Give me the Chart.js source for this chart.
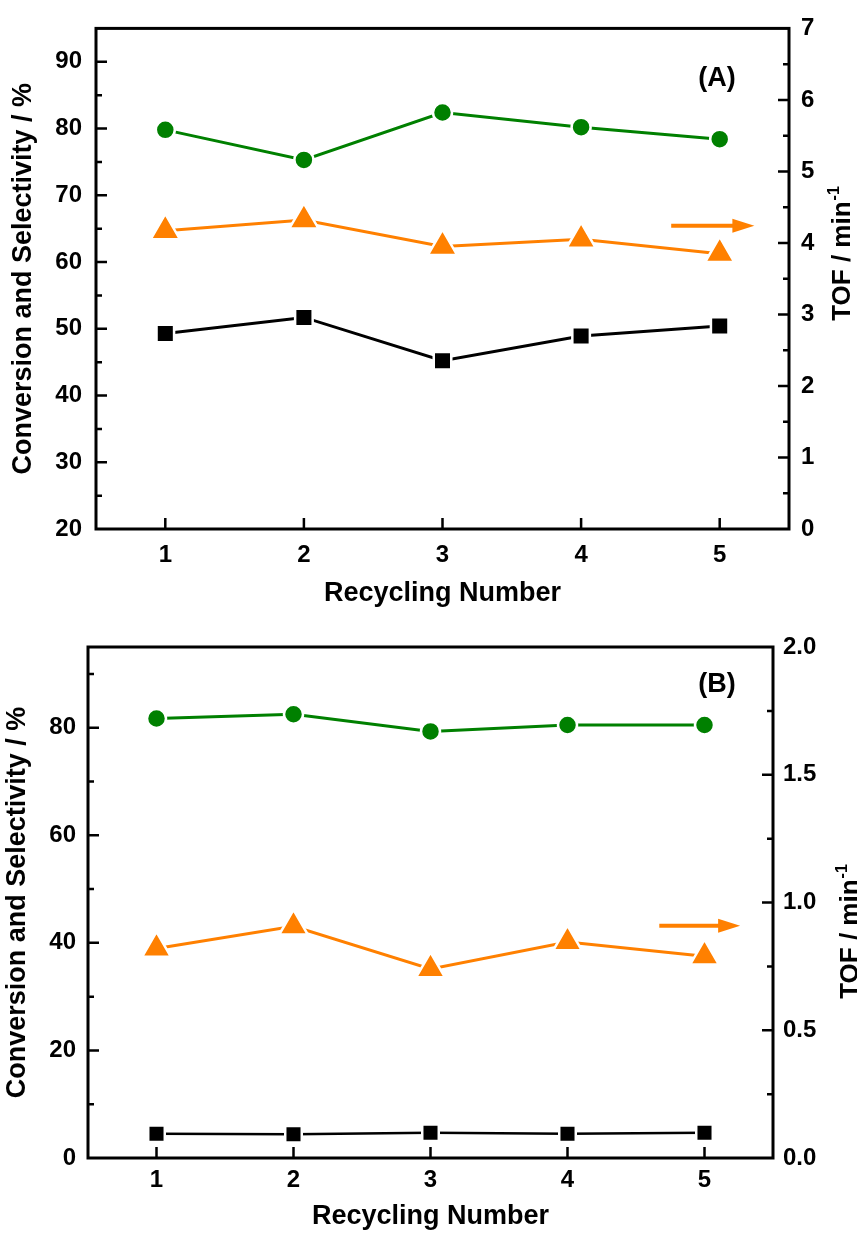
<!DOCTYPE html>
<html><head><meta charset="utf-8">
<script src="https://cdn.jsdelivr.net/npm/chart.js@4.4.1/dist/chart.umd.min.js"></script>
<style>
html,body{margin:0;padding:0;background:#fff;}
canvas{display:block;}
</style></head>
<body>
<canvas id="chartA" width="857" height="615"></canvas>
<canvas id="chartB" width="857" height="618"></canvas>
<script>
// recycling runs (x categories)
const cycles=['1','2','3','4','5'];

// panel A values
const selA=[79.8,75.3,82.4,80.2,78.4];   // green circles, left axis (%)
const convA=[49.3,51.7,45.2,48.9,50.4];  // black squares, left axis (%)
const tofA=[4.17,4.32,3.95,4.05,3.85];   // orange triangles, right axis (min-1)

// panel B values
const selB=[81.7,82.5,79.3,80.5,80.5];
const convB=[4.5,4.4,4.7,4.5,4.7];
const tofB=[0.82,0.907,0.74,0.845,0.79];

// labelled ticks
const leftTicksA=[20,30,40,50,60,70,80,90];
const rightTicksA=[0,1,2,3,4,5,6,7];
const leftTicksB=[0,20,40,60,80];
const rightTicksB=[0,0.5,1.0,1.5,2.0];

const fam="Arial, 'Liberation Sans', sans-serif";
const tickFont={family:fam,size:24,weight:'bold'};
const titleFont={family:fam,size:27,weight:'bold'};

function ds(data,color,style,r,lw,axis){
  return {data,borderColor:color,backgroundColor:color,pointBackgroundColor:color,
    pointBorderColor:'#fff',pointBorderWidth:2.5,pointStyle:style,pointRadius:r,
    pointHoverRadius:r,borderWidth:lw,yAxisID:axis,tension:0};
}

function yScale(pos,min,max,step,major,fmt,pad,w,title,tpad){
  return {position:pos,min,max,
    grid:{display:false,drawTicks:false},border:{display:false},
    afterBuildTicks:s=>{const t=[];for(let v=min;v<=max+1e-9;v+=step)t.push({value:+v.toFixed(4)});s.ticks=t;},
    ticks:{font:tickFont,color:'#000',padding:pad,autoSkip:false,
      callback:v=>major.some(m=>Math.abs(m-v)<1e-6)?fmt(v):''},
    title:{display:!!title,text:title||'',font:titleFont,color:'#000',padding:{top:tpad||0,bottom:0}},
    afterFit:s=>{s.width=w;}};
}

const deco={id:'deco',afterDraw(chart,args,o){
  const {ctx,chartArea:a,scales}=chart;
  ctx.save();
  ctx.strokeStyle='#000';ctx.lineWidth=3;
  ctx.strokeRect(a.left,a.top,a.right-a.left,a.bottom-a.top);
  // inward tick marks, short for unlabelled ones
  ctx.lineWidth=2.5;ctx.beginPath();
  scales.x.ticks.forEach((t,i)=>{const p=scales.x.getPixelForTick(i);ctx.moveTo(p,a.bottom);ctx.lineTo(p,a.bottom-11);});
  ['y','y2'].forEach(id=>{
    const s=scales[id],dir=id==='y'?1:-1,x0=id==='y'?a.left:a.right;
    s.ticks.forEach((t,i)=>{
      const p=s.getPixelForTick(i);
      if(p<a.top+2||p>a.bottom-2)return;
      const len=t.label!==''?11:6;
      ctx.moveTo(x0,p);ctx.lineTo(x0+dir*len,p);
    });
  });
  ctx.stroke();
  // arrow pointing at the right axis
  const x=scales.x,y2=scales.y2;
  const ax0=x.getPixelForValue(o.arrow[0]),ax1=x.getPixelForValue(o.arrow[1]),ay=y2.getPixelForValue(o.arrow[2]);
  ctx.strokeStyle=ctx.fillStyle='#ff8000';ctx.lineWidth=4;
  ctx.beginPath();ctx.moveTo(ax0,ay);ctx.lineTo(ax1-18,ay);ctx.stroke();
  ctx.beginPath();ctx.moveTo(ax1,ay);ctx.lineTo(ax1-22,ay-7);ctx.lineTo(ax1-22,ay+7);ctx.closePath();ctx.fill();
  // panel tag
  ctx.fillStyle='#000';ctx.font='bold 27px '+fam;ctx.textAlign='center';ctx.textBaseline='middle';
  ctx.fillText(o.tag,o.tagX,o.tagY);
  // right axis title with superscript, reading upwards
  ctx.translate(o.rtX,o.rtY);ctx.rotate(-Math.PI/2);
  ctx.textAlign='left';ctx.textBaseline='alphabetic';
  ctx.font='bold 26px '+fam;const w1=ctx.measureText('TOF / min').width;
  ctx.font='bold 16px '+fam;const w2=ctx.measureText('-1').width;
  const sx=-(w1+w2)/2;
  ctx.font='bold 26px '+fam;ctx.fillText('TOF / min',sx,0);
  ctx.font='bold 16px '+fam;ctx.fillText('-1',sx+w1+1,-11);
  ctx.restore();
}};

function panel(id,sel,conv,tof,g){
  const cv=document.getElementById(id),H=cv.height,W=cv.width;
  return new Chart(cv,{
    type:'line',
    data:{labels:cycles,datasets:[
      ds(conv,'#000','rect',g.sq,g.lwK,'y'),
      ds(tof,'#ff8000','triangle',g.tri,3,'y2'),
      ds(sel,'#008000','circle',g.circ,3,'y')
    ]},
    options:{
      responsive:false,animation:false,events:[],
      layout:{padding:{top:g.top,left:0,right:0,bottom:0}},
      plugins:{legend:{display:false},tooltip:{enabled:false},deco:g.deco},
      scales:{
        x:{type:'category',offset:true,grid:{display:false,offset:false,drawTicks:false},border:{display:false},
          ticks:{font:tickFont,color:'#000',padding:g.xPad,maxRotation:0,autoSkip:false},
          title:{display:true,text:'Recycling Number',font:titleFont,color:'#000',padding:{top:0,bottom:g.xtPad}},
          afterFit:s=>{s.height=H-g.bottom;}},
        y:yScale('left',g.yL[0],g.yL[1],g.yL[2],g.yL[3],v=>String(v),g.lPad,g.left,'Conversion and Selectivity / %',g.ltPad),
        y2:yScale('right',g.yR[0],g.yR[1],g.yR[2],g.yR[3],g.rFmt,g.rPad,W-g.right)
      }
    },
    plugins:[deco]
  });
}

panel('chartA',selA,convA,tofA,{
  top:23,bottom:529,left:96,right:789,
  yL:[20,95,5,leftTicksA],yR:[0,7,0.5,rightTicksA],rFmt:v=>String(v),
  lPad:14,rPad:12,xPad:12,xtPad:5.4,ltPad:7.4,
  sq:12.4,tri:16.8,circ:9.5,lwK:3,
  deco:{arrow:[3.65,4.25,4.24],tag:'(A)',tagX:717,tagY:79,rtX:850,rtY:254}
});
panel('chartB',selB,convB,tofB,{
  top:32,bottom:543,left:88,right:773,
  yL:[0,95,10,leftTicksB],yR:[0,2,0.25,rightTicksB],rFmt:v=>v.toFixed(1),
  lPad:12,rPad:10,xPad:8,xtPad:0,ltPad:1.4,
  sq:11.7,tri:16.5,circ:9.5,lwK:2.5,
  deco:{arrow:[3.67,4.26,0.909],tag:'(B)',tagX:717,tagY:70,rtX:858,rtY:317}
});
</script>
</body></html>
